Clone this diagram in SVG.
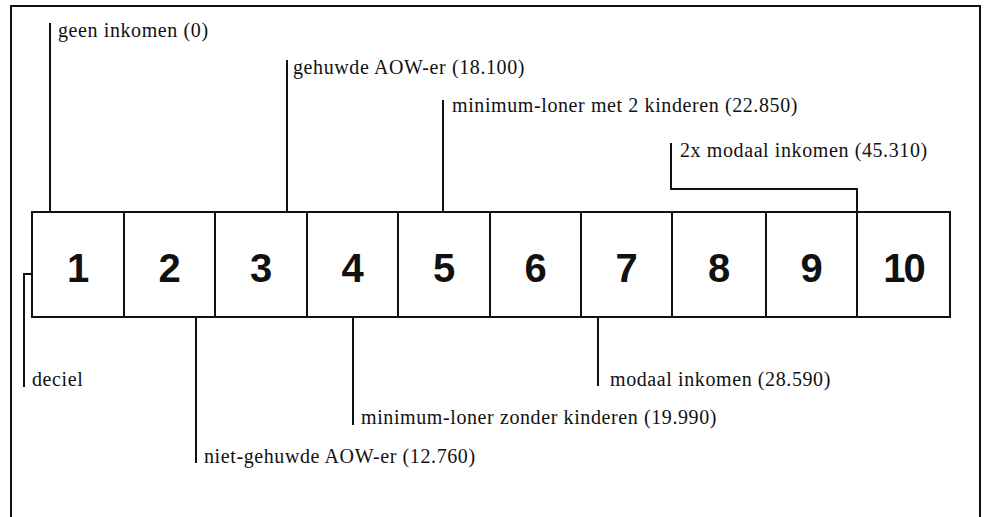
<svg xmlns="http://www.w3.org/2000/svg" width="985" height="517" viewBox="0 0 985 517">
<style>
.ln{fill:none;stroke:#111;stroke-width:2}
.box{fill:#fff;stroke:#111;stroke-width:2}
.num{font-family:"Liberation Sans",Arial,sans-serif;font-weight:bold;font-size:40px;fill:#111;text-anchor:middle}
.lab{font-family:"Liberation Serif","Times New Roman",serif;font-size:20px;letter-spacing:0.6px;fill:#111}
</style>
<rect width="985" height="517" fill="#fff"/>
<g id="frame"><path class="ln" d="M11,517 V6 H980 V517"/></g>
<g id="connectors">
<path class="ln" d="M50,23 V212"/>
<path class="ln" d="M287,60 V212"/>
<path class="ln" d="M443,100 V212"/>
<path class="ln" d="M671,143 V189 H857 V212"/>
<path class="ln" d="M32,274 H24 V387"/>
<path class="ln" d="M196,317 V463"/>
<path class="ln" d="M353,317 V425"/>
<path class="ln" d="M598,317 V386"/>
</g>
<g id="d1"><rect class="box" x="32" y="212" width="92" height="105"/><text class="num" x="78" y="282">1</text></g>
<g id="d2"><rect class="box" x="124" y="212" width="91" height="105"/><text class="num" x="169.5" y="282">2</text></g>
<g id="d3"><rect class="box" x="215" y="212" width="92" height="105"/><text class="num" x="261" y="282">3</text></g>
<g id="d4"><rect class="box" x="307" y="212" width="91" height="105"/><text class="num" x="352.5" y="282">4</text></g>
<g id="d5"><rect class="box" x="398" y="212" width="92" height="105"/><text class="num" x="444" y="282">5</text></g>
<g id="d6"><rect class="box" x="490" y="212" width="91" height="105"/><text class="num" x="535.5" y="282">6</text></g>
<g id="d7"><rect class="box" x="581" y="212" width="91" height="105"/><text class="num" x="626.5" y="282">7</text></g>
<g id="d8"><rect class="box" x="672" y="212" width="94" height="105"/><text class="num" x="719" y="282">8</text></g>
<g id="d9"><rect class="box" x="766" y="212" width="91" height="105"/><text class="num" x="811.5" y="282">9</text></g>
<g id="d10"><rect class="box" x="857" y="212" width="93" height="105"/><text class="num" x="903.5" y="282" letter-spacing="-2">10</text></g>
<g id="labels">
<text class="lab" x="58" y="37">geen inkomen (0)</text>
<text class="lab" x="293" y="74">gehuwde AOW-er (18.100)</text>
<text class="lab" x="452" y="112">minimum-loner met 2 kinderen (22.850)</text>
<text class="lab" x="680" y="157">2x modaal inkomen (45.310)</text>
<text class="lab" x="32" y="386">deciel</text>
<text class="lab" x="204" y="463">niet-gehuwde AOW-er (12.760)</text>
<text class="lab" x="361" y="424">minimum-loner zonder kinderen (19.990)</text>
<text class="lab" x="610" y="386">modaal inkomen (28.590)</text>
</g>
</svg>
